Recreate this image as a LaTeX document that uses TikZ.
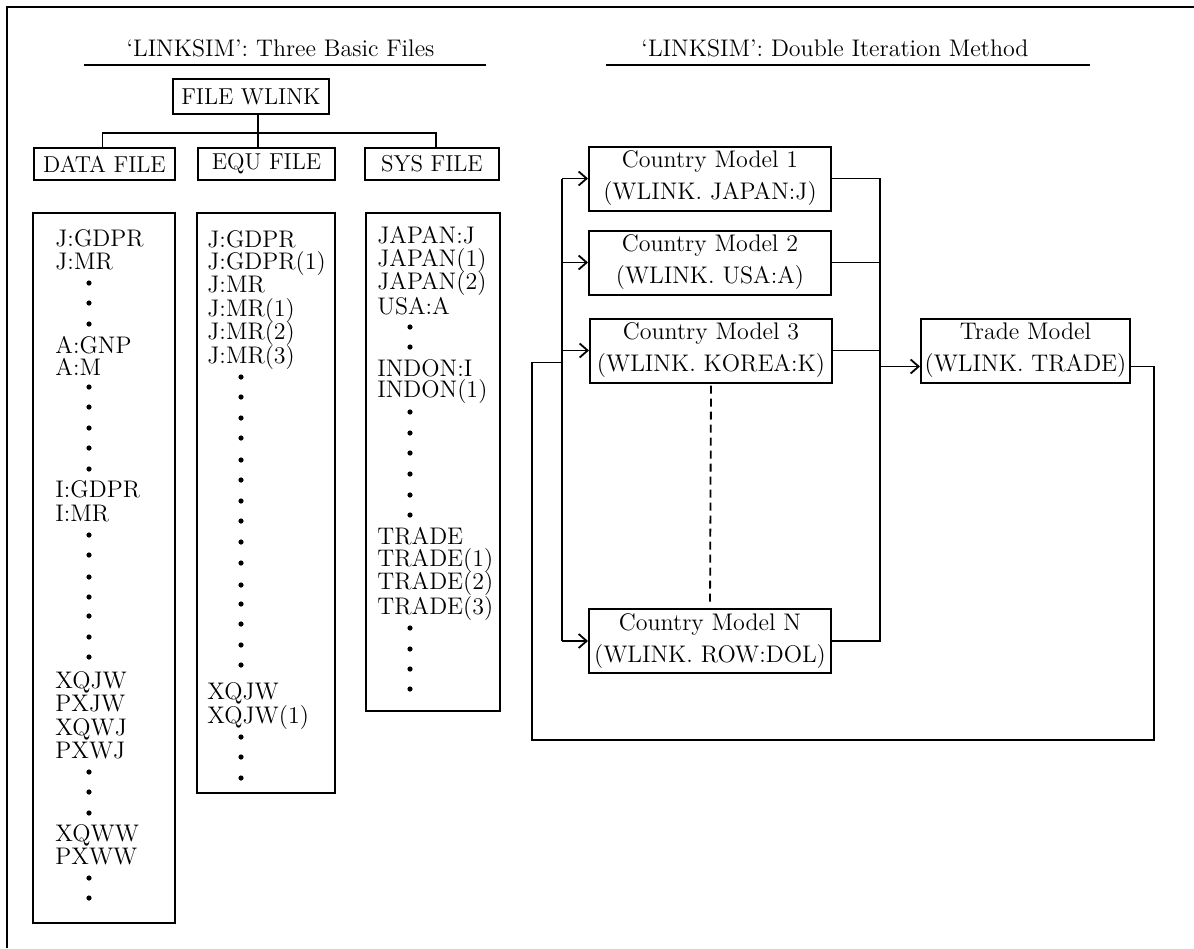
\documentclass[tikz,border=0pt]{standalone}
\usetikzlibrary{arrows.meta, positioning}

\begin{document}
\begin{tikzpicture}[
    x=0.5pt, y=-0.5pt,
    filebox/.style={rectangle, draw, line width=1pt, inner sep=0pt, minimum height=16pt,
                    font=\fontsize{11.5}{13}\selectfont},
    listbox/.style={rectangle, draw, line width=1pt, inner sep=0pt},
    model/.style={rectangle, draw, line width=1pt, inner sep=0pt, align=center,
                  minimum width=121pt, minimum height=32pt,
                  font=\fontsize{12}{16}\selectfont},
    entry/.style={anchor=base west, inner sep=0pt, font=\fontsize{12}{14}\selectfont},
    heading/.style={anchor=base, inner sep=0pt, font=\fontsize{12}{14}\selectfont},
    link/.style={line width=0.9pt},
    arr/.style={-{Straight Barb[length=4pt, width=7pt]}, line width=0.9pt}
]
\useasboundingbox (0,0) rectangle (1194,948);

% Frame
\draw[line width=1pt] (1194,7) -- (7,7) -- (7,948);

% Headings
\node[heading] (lhead) at (280.5,56) {`LINKSIM': Three Basic Files};
\node[heading] (rhead) at (835,56) {`LINKSIM': Double Iteration Method};
\draw[link] (84,65) -- (486,65);
\draw[link] (606,65) -- (1090,65);

% File tree
\node[filebox, minimum width=78pt, minimum height=17.5pt] (wlink) at (251,96.5) {FILE WLINK};
\node[filebox, minimum width=70.5pt] (datafile) at (104.5,164) {DATA FILE};
\node[filebox, minimum width=68.5pt] (equfile)  at (266.5,164) {EQU FILE};
\node[filebox, minimum width=67pt]   (sysfile)  at (432,164)   {SYS FILE};

\draw[link] ([xshift=3.5pt]wlink.south) -- ([xshift=3.5pt]wlink.south |- equfile.north);
\draw[link] ([xshift=-1pt]datafile.north) -- ++(0,-14) -| ([xshift=2pt]sysfile.north);

% File contents
\node[listbox, minimum width=71pt, minimum height=355pt] (datalist) at (104,568) {};
\node[listbox, minimum width=69pt, minimum height=290pt] (equlist)  at (266,503) {};
\node[listbox, minimum width=67pt, minimum height=249pt] (syslist)  at (433,462) {};

\foreach \y/\t [count=\i] in {246/J:GDPR, 269/J:MR, 353/A:GNP, 375/A:M, 497/I:GDPR, 521/I:MR,
        688/XQJW, 711/PXJW, 735/XQWJ, 758/PXWJ, 841/XQWW, 864/PXWW}
    \node[entry] (dat\i) at (55,\y) {\t};
\foreach \y in {283,303,324, 387,407,428,448,469, 535,555,577,597,616,637,657,
        772,792,813, 878,898}
    \fill (89,\y) circle (1.3pt);

\foreach \y/\t [count=\i] in {247/J:GDPR, 269/J:GDPR(1), 292/J:MR, 316/J:MR(1),
        339/J:MR(2), 363/J:MR(3), 699/XQJW, 723/XQJW(1)}
    \node[entry] (equ\i) at (207,\y) {\t};
\foreach \y in {377,397,418,438,460,480,501,521,542,563,585,604,624,645,665,
        737,757,778}
    \fill (241,\y) circle (1.3pt);

\foreach \y/\t [count=\i] in {243/JAPAN:J, 266/JAPAN(1), 289/JAPAN(2), 314/USA:A,
        376/INDON:I, 397/INDON(1), 544/TRADE, 566/TRADE(1), 589/TRADE(2), 614/TRADE(3)}
    \node[entry] (sys\i) at (377,\y) {\t};
\foreach \y in {327,347, 412,433,453,474,495,515, 628,649,669,689}
    \fill (410,\y) circle (1.3pt);

% Country models
\node[model] (cm1) at (710,178.5) {Country Model 1\\(WLINK. JAPAN:J)};
\node[model] (cm2) at (710,262.5) {Country Model 2\\(WLINK. USA:A)};
\node[model] (cm3) at (711,350.5) {Country Model 3\\(WLINK. KOREA:K)};
\node[model] (cmN) at (710,641)   {Country Model N\\(WLINK. ROW:DOL)};
\node[model, minimum width=104.5pt] (trade) at (1025.5,350.5) {Trade Model\\(WLINK. TRADE)};

\coordinate (bus)  at (562,0);
\coordinate (coll) at (880,0);
\coordinate (fbR)  at (1154,740);
\coordinate (fbL)  at (532,740);

% Distribution
\draw[link] (cm1.west -| bus) -- (cmN.west -| bus);
\foreach \m in {cm1,cm2,cm3,cmN}
    \draw[arr] (\m.west -| bus) -- (\m.west);

% Collection
\draw[link] (cm1.east) -| (cmN.east -| coll) -- (cmN.east);
\draw[link] (cm2.east) -- (cm2.east -| coll);
\draw[link] (cm3.east) -- (cm3.east -| coll);
\draw[arr] ([yshift=-8pt]trade.west -| coll) -- ([yshift=-8pt]trade.west);
\draw[link, dashed, dash pattern=on 4pt off 2.5pt, shorten >=3pt, shorten <=1pt]
    (cm3.south) -- (cmN.north);

% Feedback
\draw[link] ([yshift=-8pt]trade.east) -| (fbR) -- (fbL) |- ([yshift=-6pt]cm3.west -| bus);
\end{tikzpicture}
\end{document}
